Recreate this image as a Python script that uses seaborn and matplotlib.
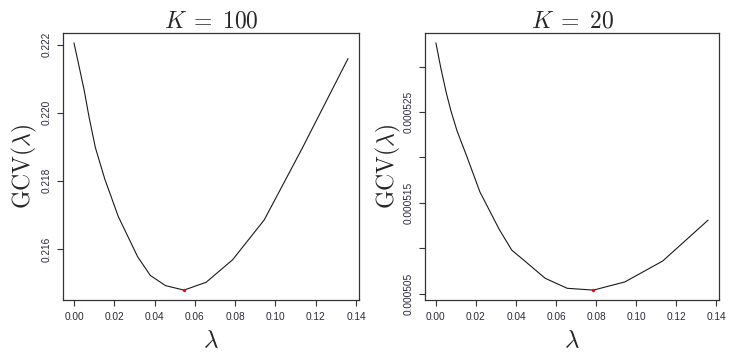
import matplotlib
matplotlib.use("Agg")
import matplotlib.pyplot as plt
import numpy as np
import pandas as pd
import seaborn as sns

# Smoothing-parameter grid and generalized cross-validation scores
lam = [0.0, 0.0025, 0.0051, 0.0074, 0.0106, 0.0153, 0.0220, 0.0316,
       0.0379, 0.0455, 0.0546, 0.0656, 0.0787, 0.0944, 0.1133, 0.1360]

gcv_k100 = [0.22205, 0.22137, 0.22065, 0.21990, 0.21898, 0.21805, 0.21695,
            0.21577, 0.21522, 0.21492, 0.21479, 0.21502, 0.21568, 0.21685,
            0.21896, 0.22159]

gcv_k20 = [0.0005326, 0.0005298, 0.0005272, 0.0005252, 0.0005229, 0.0005202,
           0.0005162, 0.0005121, 0.0005098, 0.0005084, 0.0005067, 0.0005056,
           0.0005054, 0.0005063, 0.0005086, 0.0005131]

titles = [r"$K\;=\;100$", r"$K\;=\;20$"]

xticks = [0.00, 0.02, 0.04, 0.06, 0.08, 0.10, 0.12, 0.14]
xtick_labels = ["0.00", "0.02", "0.04", "0.06", "0.08", "0.10", "0.12", "0.14"]

yticks_k100 = [0.216, 0.218, 0.220, 0.222]
ytick_labels_k100 = ["0.216", "0.218", "0.220", "0.222"]

yticks_k20 = [0.000505, 0.000510, 0.000515, 0.000520, 0.000525, 0.000530]
ytick_labels_k20 = ["0.000505", "", "0.000515", "", "0.000525", ""]

sns.set_style("ticks")
plt.rcParams["font.family"] = ["Liberation Sans", "DejaVu Sans"]
plt.rcParams["mathtext.fontset"] = "cm"

fig = plt.figure(figsize=(7.29, 3.54), dpi=100)
ax_left = fig.add_axes([63 / 729, 1 - 300 / 354, 296 / 729, 267 / 354])
ax_right = fig.add_axes([425 / 729, 1 - 300 / 354, 294 / 729, 267 / 354])

panels = [
    (ax_left, gcv_k100, titles[0], yticks_k100, ytick_labels_k100, -0.082),
    (ax_right, gcv_k20, titles[1], yticks_k20, ytick_labels_k20, -0.074),
]

for ax, gcv, title, yt, ytl, ylab_x in panels:
    df = pd.DataFrame({"lambda": lam, "gcv": gcv})
    sns.lineplot(data=df, x="lambda", y="gcv", ax=ax, color="#1a1a1a",
                 lw=0.8, sort=False)
    best = df.loc[df["gcv"].idxmin()]
    sns.scatterplot(x=[best["lambda"]], y=[best["gcv"]], ax=ax, color="red",
                    s=6, linewidth=0, zorder=5)

    # R-style padding of 4% around the data range
    x0, x1 = min(lam), max(lam)
    dx = (x1 - x0) * 0.04
    ax.set_xlim(x0 - dx, x1 + dx)
    y0, y1 = min(gcv), max(gcv)
    dy = (y1 - y0) * 0.04
    ax.set_ylim(y0 - dy, y1 + dy)

    ax.set_xticks(xticks)
    ax.set_xticklabels(xtick_labels)
    ax.set_yticks(yt)
    ax.set_yticklabels(ytl, rotation=90, va="center")

    ax.tick_params(axis="both", length=4, width=0.8, color="#333333",
                   labelsize=7.3, labelcolor="#2a2a3a")
    ax.tick_params(axis="x", pad=5)
    ax.tick_params(axis="y", pad=4)

    for sp in ax.spines.values():
        sp.set_visible(True)
        sp.set_color("#333333")
        sp.set_linewidth(0.9)

    ax.set_title(title, fontsize=17, pad=3)
    ax.set_xlabel(r"$\lambda$", fontsize=18)
    ax.set_ylabel(r"$\mathrm{GCV}(\lambda)$", fontsize=17)
    ax.xaxis.set_label_coords(0.5, -0.105)
    ax.yaxis.set_label_coords(ylab_x, 0.5)

fig.savefig("out.png", dpi=100)
